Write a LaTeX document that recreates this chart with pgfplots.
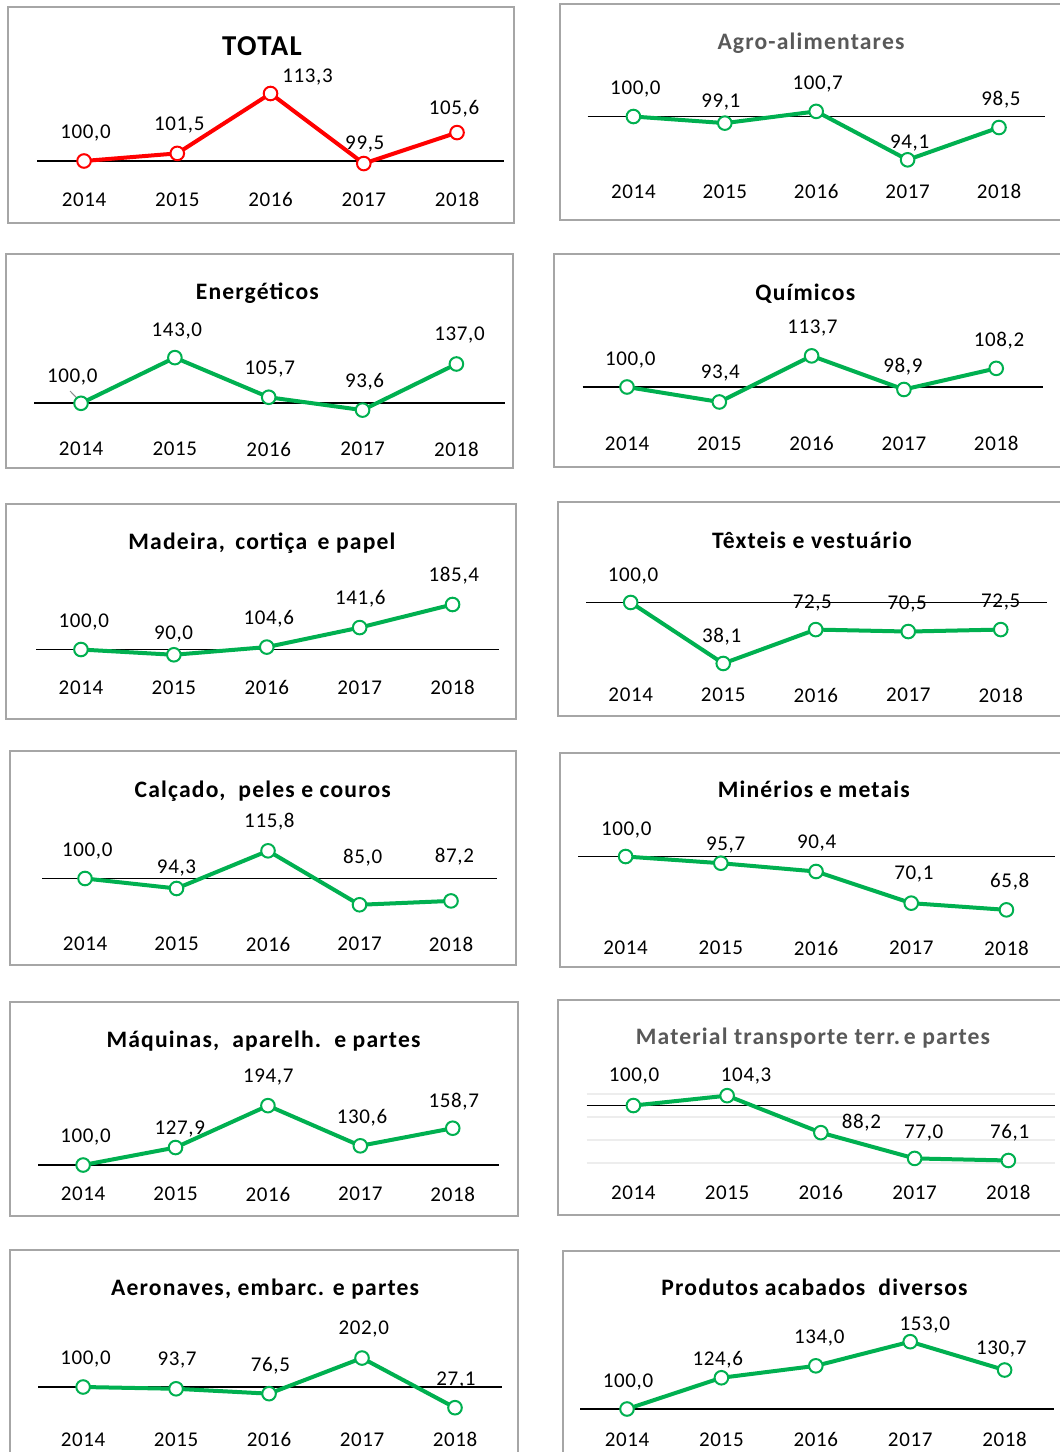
\documentclass[border=0pt]{standalone}
\usepackage{fontspec}
\setmainfont{Carlito}
\newfontfamily\lfam{Carlito}[LetterSpace=3]
\newfontfamily\tfam{Carlito}[LetterSpace=5]
\usepackage{pgfplots}
\pgfplotsset{compat=1.18}
\definecolor{xgreen}{HTML}{00B050}
\definecolor{xred}{HTML}{FF0000}
\definecolor{tgrey}{HTML}{595959}
\definecolor{fgrey}{HTML}{A6A6A6}
\newcommand\lfont{\lfam\fontsize{10.5}{12}\selectfont}
\newcommand\tfont{\tfam\fontsize{11.8}{14}\selectfont\bfseries}
\pgfplotsset{
  panel/.style={scale only axis, anchor=south west, clip=false,
    axis line style={draw=none}, major tick length=0pt,
    xtick={0,1,2,3,4}, xticklabels={2014,2015,2016,2017,2018}, ytick=\empty,
    xticklabel style={anchor=center, inner sep=0pt, font=\lfont, text=black}},
  ser/.style={color=#1, line width=2pt, mark=*, mark size=3.4pt,
    mark options={fill=white, draw=#1, line width=1pt, solid}},
  zeroline/.style={black, line width=0.85pt, forget plot, mark=none},
}
\tikzset{lbl/.style={font=\lfont, inner sep=0pt, text depth=0pt, text=black, anchor=center},
  ttl/.style={font=\tfont, inner sep=0pt, anchor=base, text=black},
  frm/.style={draw=fgrey, line width=1pt}}
\begin{document}
\begin{tikzpicture}
\useasboundingbox (0pt,0pt) rectangle (530pt,-726pt);
\fill[white] (0pt,0pt) rectangle (530pt,-726pt);
% frames
\draw[frm] (4pt,-3.5pt) rectangle (257pt,-111.5pt);
\draw[frm] (280pt,-2pt) rectangle (540pt,-110pt);
\draw[frm] (3pt,-127pt) rectangle (256.25pt,-234pt);
\draw[frm] (277pt,-127pt) rectangle (540pt,-233.5pt);
\draw[frm] (3pt,-252pt) rectangle (258pt,-359.5pt);
\draw[frm] (279pt,-251pt) rectangle (540pt,-358pt);
\draw[frm] (5pt,-375.5pt) rectangle (258pt,-482.5pt);
\draw[frm] (280pt,-376.5pt) rectangle (540pt,-483.5pt);
\draw[frm] (5pt,-501pt) rectangle (259pt,-608pt);
\draw[frm] (279pt,-500pt) rectangle (540pt,-607.5pt);
\draw[frm] (5pt,-625pt) rectangle (259pt,-735pt);
\draw[frm] (281.5pt,-625.5pt) rectangle (540pt,-735pt);
% titles
\node[ttl, font=\tfam\fontsize{14.4}{17}\selectfont\bfseries] at (131pt,-27.5pt) {TOTAL};
\node[ttl, text=tgrey] at (405.5pt,-24.85pt) {Agro-alimentares};
\node[ttl] at (128.7pt,-149.85pt) {Energéticos};
\node[ttl] at (402.65pt,-150.15pt) {Químicos};
\node[ttl] at (131pt,-274.85pt) {Madeira,\, cortiça\, e papel};
\node[ttl] at (406pt,-274pt) {Têxteis e vestuário};
\node[ttl] at (131.4pt,-398.85pt) {Calçado,\ \ peles e couros};
\node[ttl] at (406.9pt,-398.85pt) {Minérios e metais};
\node[ttl] at (131.75pt,-523.85pt) {Máquinas,\ \ aparelh.\ \ e partes};
\node[ttl, text=tgrey] at (406.5pt,-522.15pt) {Material transporte terr.\,e partes};
\node[ttl] at (132.6pt,-647.65pt) {Aeronaves, embarc. e partes};
\node[ttl] at (407.25pt,-647.65pt) {Produtos acabados\ \ diversos};

% 1 TOTAL
\begin{axis}[panel, at={(18.7pt,-99.75pt)}, width=233.125pt, height=69.75pt,
  xmin=-0.5, xmax=4.5, ymin=92.41, ymax=119.9]
\addplot[zeroline] coordinates {(-0.5,100) (4.5,100)};
\addplot[ser=xred] coordinates {(0,100) (1,101.5) (2,113.3) (3,99.5) (4,105.6)};
\node[lbl,xshift=0.75pt,yshift=14.5pt] at (axis cs:0,100) {100,0};
\node[lbl,xshift=1pt,yshift=15pt] at (axis cs:1,101.5) {101,5};
\node[lbl,xshift=18.5pt,yshift=9pt] at (axis cs:2,113.3) {113,3};
\node[lbl,xshift=0.5pt,yshift=10.5pt] at (axis cs:3,99.5) {99,5};
\node[lbl,xshift=-1.5pt,yshift=12.5pt] at (axis cs:4,105.6) {105,6};
\end{axis}

% 2 Agro
\begin{axis}[panel, at={(293.85pt,-95.85pt)}, width=228.5pt, height=65.85pt,
  xmin=-0.5, xmax=4.5, ymin=89.755, ymax=107.7]
\addplot[zeroline] coordinates {(-0.5,100) (4.5,100)};
\addplot[ser=xgreen] coordinates {(0,100) (1,99.1) (2,100.7) (3,94.1) (4,98.5)};
\node[lbl,xshift=1pt,yshift=14.35pt] at (axis cs:0,100) {100,0};
\node[lbl,xshift=-2pt,yshift=11.35pt] at (axis cs:1,99.1) {99,1};
\node[lbl,xshift=0.75pt,yshift=14.15pt] at (axis cs:2,100.7) {100,7};
\node[lbl,xshift=1pt,yshift=9.15pt] at (axis cs:3,94.1) {94,1};
\node[lbl,xshift=1pt,yshift=14.7pt] at (axis cs:4,98.5) {98,5};
\end{axis}

% 3 Energeticos
\begin{axis}[panel, at={(17.05pt,-224.5pt)}, width=235.55pt, height=69.5pt,
  xmin=-0.5, xmax=4.52, ymin=57.0, ymax=187.8]
\addplot[zeroline] coordinates {(-0.5,100) (4.52,100)};
\draw[black!45, line width=0.5pt] ([xshift=-5.5pt,yshift=6.15pt]axis cs:0,100) -- ([xshift=-1pt,yshift=1.5pt]axis cs:0,100);
\addplot[ser=xgreen] coordinates {(0,100) (1,143.0) (2,105.7) (3,93.6) (4,137.0)};
\node[lbl,xshift=-4.35pt,yshift=13.65pt] at (axis cs:0,100) {100,0};
\node[lbl,xshift=1pt,yshift=14.15pt] at (axis cs:1,143.0) {143,0};
\node[lbl,xshift=0.5pt,yshift=14.85pt] at (axis cs:2,105.7) {105,7};
\node[lbl,xshift=1pt,yshift=15pt] at (axis cs:3,93.6) {93,6};
\node[lbl,xshift=1.55pt,yshift=15pt] at (axis cs:4,137.0) {137,0};
\end{axis}

% 4 Quimicos
\begin{axis}[panel, at={(291.35pt,-221.65pt)}, width=230.3pt, height=66.65pt,
  xmin=-0.48, xmax=4.51, ymin=75.2, ymax=133.9]
\addplot[zeroline] coordinates {(-0.48,100) (4.51,100)};
\addplot[ser=xgreen] coordinates {(0,100) (1,93.4) (2,113.7) (3,98.9) (4,108.2)};
\node[lbl,xshift=1.65pt,yshift=14.2pt] at (axis cs:0,100) {100,0};
\node[lbl,xshift=0.5pt,yshift=15pt] at (axis cs:1,93.4) {93,4};
\node[lbl,xshift=0.4pt,yshift=14.5pt] at (axis cs:2,113.7) {113,7};
\node[lbl,xshift=-0.5pt,yshift=12.15pt] at (axis cs:3,98.9) {98,9};
\node[lbl,xshift=1.4pt,yshift=14.65pt] at (axis cs:4,108.2) {108,2};
\end{axis}

% 5 Madeira
\begin{axis}[panel, at={(18pt,-343.65pt)}, width=231.5pt, height=63.65pt,
  xmin=-0.484, xmax=4.5, ymin=28.3, ymax=269.8]
\addplot[zeroline] coordinates {(-0.484,100) (4.5,100)};
\addplot[ser=xgreen] coordinates {(0,100) (1,90.0) (2,104.6) (3,141.6) (4,185.4)};
\node[lbl,xshift=1.4pt,yshift=14.65pt] at (axis cs:0,100) {100,0};
\node[lbl,xshift=-0.15pt,yshift=11.3pt] at (axis cs:1,90.0) {90,0};
\node[lbl,xshift=1pt,yshift=15pt] at (axis cs:2,104.6) {104,6};
\node[lbl,xshift=0.35pt,yshift=15pt] at (axis cs:3,141.6) {141,6};
\node[lbl,xshift=0.65pt,yshift=15pt] at (axis cs:4,185.4) {185,4};
\end{axis}

% 6 Texteis
\begin{axis}[panel, at={(293.2pt,-347.5pt)}, width=230.3pt, height=67.5pt,
  xmin=-0.479, xmax=4.5, ymin=6.1, ymax=143.1]
\addplot[zeroline] coordinates {(-0.479,100) (4.5,100)};
\addplot[ser=xgreen] coordinates {(0,100) (1,38.1) (2,72.5) (3,70.5) (4,72.5)};
\node[lbl,xshift=1.15pt,yshift=14pt] at (axis cs:0,100) {100,0};
\node[lbl,xshift=-0.8pt,yshift=14.15pt] at (axis cs:1,38.1) {38,1};
\node[lbl,xshift=-1.7pt,yshift=14.15pt] at (axis cs:2,72.5) {72,5};
\node[lbl,xshift=-0.5pt,yshift=14.2pt] at (axis cs:3,70.5) {70,5};
\node[lbl,xshift=0pt,yshift=14.5pt] at (axis cs:4,72.5) {72,5};
\end{axis}

% 7 Calcado
\begin{axis}[panel, at={(21.1pt,-472pt)}, width=227.55pt, height=67pt,
  xmin=-0.468, xmax=4.506, ymin=62.6, ymax=139.1]
\addplot[zeroline] coordinates {(-0.468,100) (4.506,100)};
\addplot[ser=xgreen] coordinates {(0,100) (1,94.3) (2,115.8) (3,85.0) (4,87.2)};
\node[lbl,xshift=1.1pt,yshift=14.5pt] at (axis cs:0,100) {100,0};
\node[lbl,xshift=0pt,yshift=10.85pt] at (axis cs:1,94.3) {94,3};
\node[lbl,xshift=0.7pt,yshift=15.3pt] at (axis cs:2,115.8) {115,8};
\node[lbl,xshift=1.6pt,yshift=24.15pt] at (axis cs:3,85.0) {85,0};
\node[lbl,xshift=1.7pt,yshift=22.85pt] at (axis cs:4,87.2) {87,2};
\end{axis}

% 8 Minerios
\begin{axis}[panel, at={(289.15pt,-474pt)}, width=238.35pt, height=69pt,
  xmin=-0.497, xmax=4.51, ymin=41.35, ymax=129.8]
\addplot[zeroline] coordinates {(-0.497,100) (4.51,100)};
\addplot[ser=xgreen] coordinates {(0,100) (1,95.7) (2,90.4) (3,70.1) (4,65.8)};
\node[lbl,xshift=0.35pt,yshift=14.15pt] at (axis cs:0,100) {100,0};
\node[lbl,xshift=2.4pt,yshift=10pt] at (axis cs:1,95.7) {95,7};
\node[lbl,xshift=0.3pt,yshift=15pt] at (axis cs:2,90.4) {90,4};
\node[lbl,xshift=1.35pt,yshift=15pt] at (axis cs:3,70.1) {70,1};
\node[lbl,xshift=1.65pt,yshift=14.7pt] at (axis cs:4,65.8) {65,8};
\end{axis}

% 9 Maquinas
\begin{axis}[panel, at={(19.1pt,-597pt)}, width=230.55pt, height=67pt,
  xmin=-0.486, xmax=4.504, ymin=53.75, ymax=267.5]
\addplot[zeroline] coordinates {(-0.486,100) (4.504,100)};
\addplot[ser=xgreen] coordinates {(0,100) (1,127.9) (2,194.7) (3,130.6) (4,158.7)};
\node[lbl,xshift=1.2pt,yshift=14.5pt] at (axis cs:0,100) {100,0};
\node[lbl,xshift=2.15pt,yshift=10pt] at (axis cs:1,127.9) {127,9};
\node[lbl,xshift=0.15pt,yshift=14.8pt] at (axis cs:2,194.7) {194,7};
\node[lbl,xshift=0.85pt,yshift=14.5pt] at (axis cs:3,130.6) {130,6};
\node[lbl,xshift=0.5pt,yshift=14pt] at (axis cs:4,158.7) {158,7};
\end{axis}

% 10 Material transporte
\begin{axis}[panel, at={(293.25pt,-596.15pt)}, width=234.375pt, height=66.15pt,
  xmin=-0.5, xmax=4.5, ymin=62.26, ymax=119.8,
  ytick={75,85,95,105}, yticklabels={}, ymajorgrids=true,
  grid style={black!7, line width=0.75pt}]
\addplot[zeroline] coordinates {(-0.5,100) (4.5,100)};
\addplot[ser=xgreen] coordinates {(0,100) (1,104.3) (2,88.2) (3,77.0) (4,76.1)};
\node[lbl,xshift=0.3pt,yshift=15.3pt] at (axis cs:0,100) {100,0};
\node[lbl,xshift=9.5pt,yshift=10.65pt] at (axis cs:1,104.3) {104,3};
\node[lbl,xshift=20.25pt,yshift=5.5pt] at (axis cs:2,88.2) {88,2};
\node[lbl,xshift=4.55pt,yshift=13.35pt] at (axis cs:3,77.0) {77,0};
\node[lbl,xshift=0.65pt,yshift=14.5pt] at (axis cs:4,76.1) {76,1};
\end{axis}

% 11 Aeronaves
\begin{axis}[panel, at={(19.1pt,-719.65pt)}, width=232.1pt, height=64.65pt,
  xmin=-0.483, xmax=4.51, ymin=-84.2, ymax=371.1]
\addplot[zeroline] coordinates {(-0.483,100) (4.51,100)};
\addplot[ser=xgreen] coordinates {(0,100) (1,93.7) (2,76.5) (3,202.0) (4,27.1)};
\node[lbl,xshift=1.2pt,yshift=14.7pt] at (axis cs:0,100) {100,0};
\node[lbl,xshift=0.5pt,yshift=15pt] at (axis cs:1,93.7) {93,7};
\node[lbl,xshift=0.65pt,yshift=14.65pt] at (axis cs:2,76.5) {76,5};
\node[lbl,xshift=0.85pt,yshift=15.2pt] at (axis cs:3,202.0) {202,0};
\node[lbl,xshift=0.5pt,yshift=14.5pt] at (axis cs:4,27.1) {27,1};
\end{axis}

% 12 Produtos
\begin{axis}[panel, at={(290pt,-719.65pt)}, width=236.8pt, height=64.65pt,
  xmin=-0.498, xmax=4.519, ymin=76.14, ymax=177.95]
\addplot[zeroline] coordinates {(-0.498,100) (4.519,100)};
\addplot[ser=xgreen] coordinates {(0,100) (1,124.6) (2,134.0) (3,153.0) (4,130.7)};
\node[lbl,xshift=0.5pt,yshift=14.15pt] at (axis cs:0,100) {100,0};
\node[lbl,xshift=-1.85pt,yshift=9.7pt] at (axis cs:1,124.6) {124,6};
\node[lbl,xshift=1.7pt,yshift=14.5pt] at (axis cs:2,134.0) {134,0};
\node[lbl,xshift=7.3pt,yshift=9.2pt] at (axis cs:3,153.0) {153,0};
\node[lbl,xshift=-1.7pt,yshift=11.35pt] at (axis cs:4,130.7) {130,7};
\end{axis}
\end{tikzpicture}
\end{document}
